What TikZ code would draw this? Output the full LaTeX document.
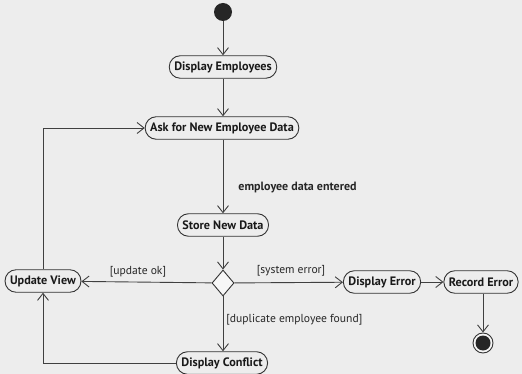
\documentclass[tikz,border=0pt]{standalone}
\usepackage{fontspec}
\setmainfont{PT Sans}
\usetikzlibrary{arrows.meta,shapes.geometric}
\begin{document}
\begin{tikzpicture}[x=1pt,y=-1pt,
  line width=0.9pt,
  act/.style={draw=black!80, rounded corners=11pt, minimum height=22.5pt,
    inner xsep=5pt, font=\bfseries\fontsize{12.2}{14}\selectfont, text=black!90},
  lbl/.style={font=\fontsize{11.6}{14}\selectfont, text=black!85, inner sep=1pt},
  flow/.style={draw=black!75, -{Straight Barb[length=7pt,width=11pt,line width=0.9pt]}}]
  % page background
  \fill[black!7] (0,0) rectangle (522,374);
  \useasboundingbox (0,0) rectangle (522,374);

  % start node
  \node[circle, fill=black!85, minimum size=18pt, inner sep=0pt] (start) at (223,12) {};

  % activities
  \node[act] (disp) at (223,67) {Display Employees};
  \node[act] (ask) at (222,128) {Ask for New Employee Data};
  \node[act] (store) at (223,225) {Store New Data};
  \node[diamond, draw=black!80, fill=black!3, minimum width=22pt, minimum height=26pt, inner sep=0pt] (dec) at (223,283) {};
  \node[act] (upd) at (43,281) {Update View};
  \node[act] (derr) at (382,282) {Display Error};
  \node[act] (rerr) at (481,282) {Record Error};
  \node[act] (conf) at (222,363) {Display Conflict};

  % final node
  \node[circle, draw=black!80, fill=black!3, minimum size=20pt, inner sep=0pt] (end) at (483,343) {};
  \fill[black!85] (end.center) circle (7.5pt);

  % flows
  \draw[flow] (start) -- (disp);
  \draw[flow] (disp) -- (disp |- ask.north);
  \draw[flow] (ask.south -| store) -- (store);
  \node[lbl, font=\bfseries\fontsize{12}{14}\selectfont, anchor=west] (lentered) at (237,188) {employee data entered};
  \draw[flow] (store) -- (dec);
  \draw[flow] (dec) -- (upd);
  \node[lbl] (lok) at (138,272) {[update ok]};
  \draw[flow] (dec) -- (derr);
  \node[lbl] (lerr) at (291,271) {[system error]};
  \draw[flow] (dec) -- (dec |- conf.north);
  \node[lbl, anchor=west] (ldup) at (225,320) {[duplicate employee found]};
  \draw[flow] (derr) -- (rerr);
  \draw[flow] (rerr.south -| end) -- (end);
  \coordinate (c1) at (43,363);
  \draw[flow] (conf.west) -- (c1) -- (upd.south);
  \coordinate (c2) at (43,128);
  \draw[flow] (upd.north) -- (c2) -- (ask.west);
\end{tikzpicture}
\end{document}
